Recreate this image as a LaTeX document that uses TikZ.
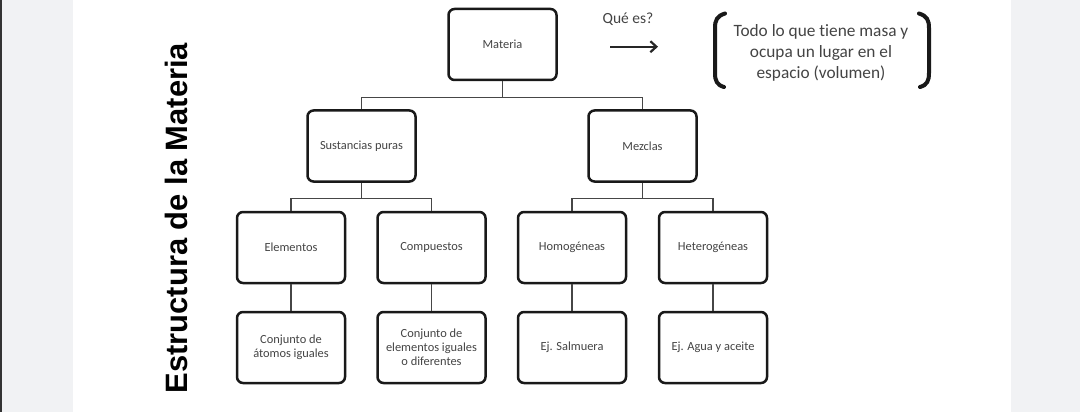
\documentclass[tikz,border=0pt]{standalone}
\usepackage{fontspec}
\setmainfont[Ligatures=CommonOff]{Carlito}
\newfontfamily\titlefont{Liberation Sans}
\usetikzlibrary{arrows.meta}
\definecolor{pagebg}{RGB}{241,242,244}
\definecolor{txtgray}{RGB}{68,68,68}
\definecolor{linegray}{RGB}{70,70,70}
\tikzset{
  box/.style={draw=black!90, line width=2.5pt, rounded corners=6pt, fill=white,
    minimum width=108pt, minimum height=71pt, inner sep=2pt, align=center,
    text=txtgray, font=\fontsize{12.4}{14}\selectfont},
  conn/.style={draw=linegray, line width=1.3pt},
  bracket/.style={draw=black!90, line width=4pt, line cap=round}
}
\begin{document}
\begin{tikzpicture}[x=1pt,y=-1pt]
\useasboundingbox (0,0) rectangle (1080,412);
\fill[pagebg] (0,0) rectangle (1080,412);
\fill[white] (72.7,0) rectangle (1010.5,412);
\fill[black!80] (0,0) rectangle (2,412);

\node[rotate=90, font=\titlefont\bfseries\fontsize{30.9}{34}\selectfont, inner sep=0pt] (title) at (176,218) {Estructura de la Materia};

\node[box] (mat) at (502.5,44.5) {Materia};
\node[box] (sus) at (361.5,146) {Sustancias puras};
\node[box] (mez) at (642.5,146) {Mezclas};
\node[box] (ele) at (291,247.5) {Elementos};
\node[box] (com) at (431.5,247.5) {Compuestos};
\node[box] (hom) at (572,247.5) {Homogéneas};
\node[box] (het) at (713,247.5) {Heterogéneas};
\node[box] (ele2) at (291,347.5) {Conjunto de\\átomos iguales};
\node[box] (com2) at (431.5,347.5) {Conjunto de\\elementos iguales\\o diferentes};
\node[box] (hom2) at (572,347.5) {Ej. Salmuera};
\node[box] (het2) at (713,347.5) {Ej. Agua y aceite};

\draw[conn] (mat.south) -- ++(0,16.5) -| (sus.north);
\draw[conn] (mat.south) -- ++(0,16.5) -| (mez.north);
\draw[conn] (sus.south) -- ++(0,15.5) -| (ele.north);
\draw[conn] (sus.south) -- ++(0,15.5) -| (com.north);
\draw[conn] (mez.south) -- ++(0,15.5) -| (hom.north);
\draw[conn] (mez.south) -- ++(0,15.5) -| (het.north);
\draw[conn] (ele.south) -- (ele2.north);
\draw[conn] (com.south) -- (com2.north);
\draw[conn] (hom.south) -- (hom2.north);
\draw[conn] (het.south) -- (het2.north);

\node[text=txtgray, font=\fontsize{15.5}{18}\selectfont, inner sep=0pt] (que) at (628,19) {Qué es?};
\coordinate (aS) at (610,46.7);
\coordinate (aE) at (658,46.7);
\draw[line width=2.2pt, black!85, -{Straight Barb[length=6pt,width=11pt,line width=2.2pt]}] (aS) -- (aE);

\node[text=txtgray, font=\fontsize{17.3}{21}\selectfont, align=center, inner sep=0pt] (def) at (821,53) {Todo lo que tiene masa y\\ocupa un lugar en el\\espacio (volumen)};

\draw[bracket] (725,13.5) .. controls (717,16) and (715,20) .. (715,28) -- (715,73) .. controls (715,81) and (717,85) .. (724,87);
\draw[bracket] (919,13.5) .. controls (927,16) and (929,20) .. (929,28) -- (929,73) .. controls (929,81) and (927,85) .. (920,87);
\end{tikzpicture}
\end{document}
